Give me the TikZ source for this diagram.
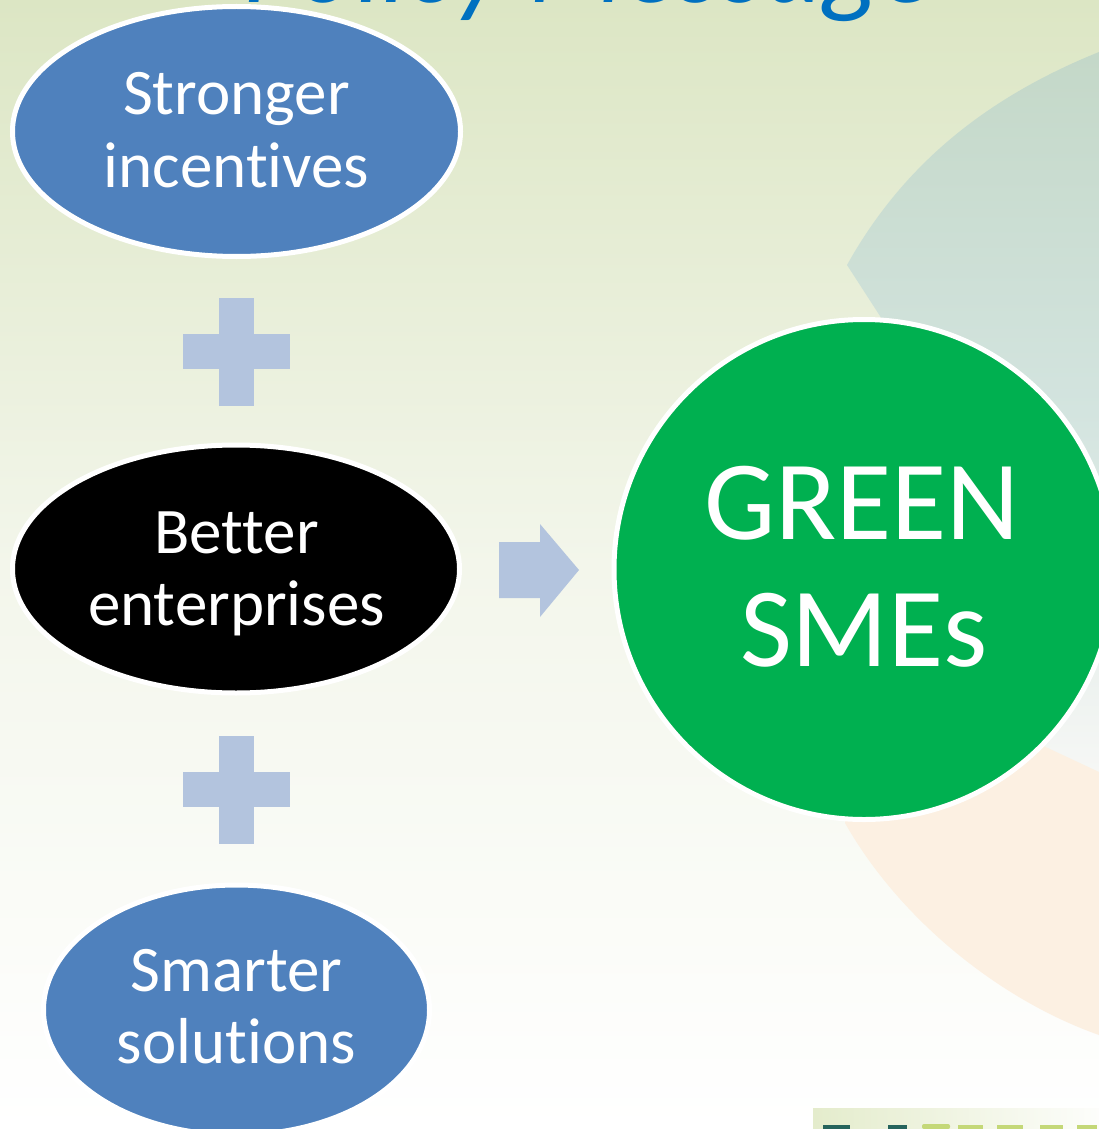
\documentclass[tikz,border=0pt]{standalone}
\usepackage{fontspec}
\setmainfont[Ligatures=NoCommon]{Carlito}
\usetikzlibrary{shapes.geometric}
\definecolor{bgtop}{RGB}{220,230,196}
\definecolor{bgmid}{RGB}{243,246,235}
\definecolor{tealtop}{RGB}{196,216,200}
\definecolor{tealmid}{RGB}{211,228,223}
\definecolor{tealbot}{RGB}{246,247,245}
\definecolor{peach}{RGB}{252,240,226}
\definecolor{ovalblue}{RGB}{79,129,189}
\definecolor{smegreen}{RGB}{0,176,80}
\definecolor{plusblue}{RGB}{179,196,222}
\definecolor{titleblue}{RGB}{0,112,192}
\definecolor{logoband}{RGB}{228,236,204}
\definecolor{logoteal}{RGB}{38,100,92}
\definecolor{logogreen}{RGB}{196,216,120}
\tikzset{
  oval/.style={ellipse, draw=white, line width=5pt, inner sep=0pt},
  bigcircle/.style={circle, draw=white, line width=5pt, fill=smegreen, inner sep=0pt, minimum size=500pt},
  ovaltext/.style={text=white, anchor=base, inner sep=0pt, font=\fontsize{65}{72}\selectfont},
  greentext/.style={text=white, anchor=base, inner sep=0pt, font=\fontsize{113}{124}\selectfont},
  plusshape/.style={fill=plusblue},
}
\begin{document}
\begin{tikzpicture}[x=1pt,y=-1pt]
\useasboundingbox (0,0) rectangle (1099,1129);
\clip (0,0) rectangle (1099,1129);
% background
\shade[top color=bgtop, bottom color=white, middle color=bgmid] (0,0) rectangle (1099,1129);
% decorative segments on the right
\shade[top color=tealtop, bottom color=tealbot, middle color=tealmid]
  (1099,52) .. controls (980,100) and (900,170) .. (847,265)
  -- (966,449) -- (1020,735) -- (1099,772) -- cycle;
\fill[peach] (845,823) .. controls (900,920) and (1000,1000) .. (1099,1035)
  -- (1099,772) -- (1020,735) -- (845,810) -- cycle;
% logo fragment bottom right
\shade[left color=logoband, right color=white!92!logoband] (813,1108) rectangle (1099,1129);
\fill[logoteal] (823,1125) rectangle (850,1129);
\fill[logoteal] (888,1125) rectangle (907,1129);
\fill[logogreen, rounded corners=2pt] (922,1124) rectangle (950,1129);
\fill[logogreen] (958,1125) rectangle (983,1129);
\fill[logogreen] (997,1125) rectangle (1023,1129);
\fill[logogreen] (1040,1125) rectangle (1063,1129);
\fill[logogreen] (1077,1125) rectangle (1097,1129);
% title
\node[text=titleblue, anchor=base east, inner sep=0pt,
      font=\fontsize{112}{124}\selectfont\itshape] (title) at (935,3) {Policy Message};
% ovals
\node[oval, fill=ovalblue, minimum width=448pt, minimum height=250pt] (incent) at (236.5,131.5) {};
\node[oval, fill=black, minimum width=447pt, minimum height=248pt] (better) at (236,569) {};
\node[oval, fill=ovalblue, minimum width=386pt, minimum height=250pt] (smart) at (236.5,1010) {};
\node[ovaltext] (incentA) at (236.5,115) {Stronger};
\node[ovaltext] (incentB) at (236.5,187) {incentives};
\node[ovaltext] (betterA) at (236.5,553) {Better};
\node[ovaltext] (betterB) at (236.5,625) {enterprises};
\node[ovaltext] (smartA) at (236.5,991) {Smarter};
\node[ovaltext] (smartB) at (236.5,1063) {solutions};
% plus signs
\coordinate (plusA) at (236.5,351.5);
\coordinate (plusB) at (236.5,789.5);
\foreach \p in {plusA,plusB}{
  \fill[plusshape] ([shift={(-17.5,-54)}]\p) rectangle ([shift={(17.5,54)}]\p);
  \fill[plusshape] ([shift={(-53.5,-17.5)}]\p) rectangle ([shift={(53.5,17.5)}]\p);
}
% arrow
\coordinate (arr) at (499,570);
\fill[plusshape] (arr) ++(0,-28) -- ++(41,0) -- ++(0,-18) -- ++(39,46) -- ++(-39,47) -- ++(0,-19) -- ++(-41,0) -- cycle;
% green circle
\node[bigcircle] (green) at (864,569.5) {};
\node[greentext] (greenA) at (862,539) {GREEN};
\node[greentext] (greenB) at (864,666) {SMEs};
\end{tikzpicture}
\end{document}
